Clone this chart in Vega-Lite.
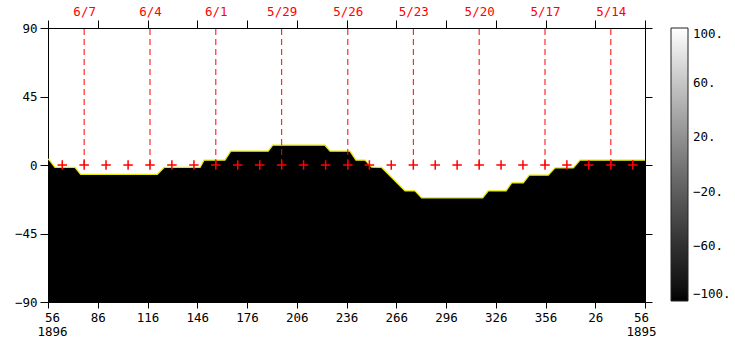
{
  "$schema": "https://vega.github.io/schema/vega-lite/v6.json",
  "autosize": {"type": "none"},
  "padding": {"left": 48, "top": 28, "right": 90, "bottom": 40},
  "width": 597,
  "height": 274,
  "background": "white",
  "datasets": {
    "boundary": [
      {"lon": 56, "lat": 4.0},
      {"lon": 56.8, "lat": 3.2},
      {"lon": 60.2, "lat": -1.6},
      {"lon": 72.3, "lat": -1.6},
      {"lon": 75.7, "lat": -6.2},
      {"lon": 121.9, "lat": -6.2},
      {"lon": 126.0, "lat": -1.6},
      {"lon": 147.7, "lat": -1.6},
      {"lon": 150.1, "lat": 3.2},
      {"lon": 162.7, "lat": 3.2},
      {"lon": 166.2, "lat": 9.1},
      {"lon": 188.8, "lat": 9.1},
      {"lon": 191.5, "lat": 13.0},
      {"lon": 223.0, "lat": 13.0},
      {"lon": 226.1, "lat": 9.1},
      {"lon": 238.1, "lat": 9.1},
      {"lon": 241.7, "lat": 3.2},
      {"lon": 247.2, "lat": 3.2},
      {"lon": 251.2, "lat": -1.4},
      {"lon": 257.2, "lat": -1.6},
      {"lon": 271.3, "lat": -17.0},
      {"lon": 277.3, "lat": -17.0},
      {"lon": 281.3, "lat": -21.6},
      {"lon": 318.1, "lat": -21.6},
      {"lon": 321.5, "lat": -17.0},
      {"lon": 332.2, "lat": -17.0},
      {"lon": 335.6, "lat": -11.8},
      {"lon": 342.6, "lat": -11.8},
      {"lon": 346.2, "lat": -6.7},
      {"lon": 357.7, "lat": -6.7},
      {"lon": 361.7, "lat": -1.9},
      {"lon": 372.8, "lat": -1.9},
      {"lon": 376.8, "lat": 3.2},
      {"lon": 416, "lat": 3.2}
    ],
    "days": [
      {"date": "6/8", "lon": 64.6, "line": false},
      {"date": "6/7", "lon": 77.8, "line": true},
      {"date": "6/6", "lon": 91.0, "line": false},
      {"date": "6/5", "lon": 104.3, "line": false},
      {"date": "6/4", "lon": 117.5, "line": true},
      {"date": "6/3", "lon": 130.7, "line": false},
      {"date": "6/2", "lon": 144.0, "line": false},
      {"date": "6/1", "lon": 157.2, "line": true},
      {"date": "5/31", "lon": 170.4, "line": false},
      {"date": "5/30", "lon": 183.7, "line": false},
      {"date": "5/29", "lon": 196.9, "line": true},
      {"date": "5/28", "lon": 210.1, "line": false},
      {"date": "5/27", "lon": 223.4, "line": false},
      {"date": "5/26", "lon": 236.8, "line": true},
      {"date": "5/25", "lon": 249.8, "line": false},
      {"date": "5/24", "lon": 263.0, "line": false},
      {"date": "5/23", "lon": 276.3, "line": true},
      {"date": "5/22", "lon": 289.5, "line": false},
      {"date": "5/21", "lon": 302.7, "line": false},
      {"date": "5/20", "lon": 316, "line": true},
      {"date": "5/19", "lon": 329.2, "line": false},
      {"date": "5/18", "lon": 342.4, "line": false},
      {"date": "5/17", "lon": 355.7, "line": true},
      {"date": "5/16", "lon": 368.9, "line": false},
      {"date": "5/15", "lon": 382.1, "line": false},
      {"date": "5/14", "lon": 395.4, "line": true},
      {"date": "5/13", "lon": 408.6, "line": false}
    ],
    "colorbar": [
      {"level": -100},
      {"level": 100}
    ]
  },
  "layer": [
    {
      "data": {"name": "boundary"},
      "mark": {"type": "area", "color": "black", "opacity": 1},
      "encoding": {
        "x": {
          "field": "lon", "type": "quantitative",
          "scale": {"domain": [56, 416], "nice": false, "zero": false},
          "axis": {
            "orient": "bottom", "title": null,
            "values": [56, 86, 116, 146, 176, 206, 236, 266, 296, 326, 356, 386, 416],
            "labelExpr": "datum.value == 56 ? ['56','1896'] : datum.value == 416 ? ['56','1895'] : format(datum.value % 360, 'd')",
            "tickSize": 6, "labelPadding": 3, "labelFlush": false,
            "labelLineHeight": 14, "labelBaseline": "top",
            "labelOffset": {"condition": [{"test": "datum.value == 56", "value": 4}, {"test": "datum.value == 416", "value": -4}], "value": 0}
          }
        },
        "y": {
          "field": "lat", "type": "quantitative",
          "scale": {"domain": [-90, 90], "nice": false, "zero": false},
          "axis": {
            "orient": "left", "title": null,
            "values": [-90, -45, 0, 45, 90],
            "tickSize": 8, "labelPadding": 3, "labelFlush": false
          }
        },
        "y2": {"datum": -90}
      }
    },
    {
      "data": {"name": "boundary"},
      "mark": {"type": "line", "color": "#e8e800", "strokeWidth": 1.3},
      "encoding": {
        "x": {
          "field": "lon", "type": "quantitative",
          "scale": {"domain": [56, 416], "nice": false, "zero": false},
          "axis": {
            "orient": "top", "title": null, "labels": false,
            "values": [56, 86, 116, 146, 176, 206, 236, 266, 296, 326, 356, 386, 416],
            "tickSize": 8
          }
        },
        "y": {
          "field": "lat", "type": "quantitative",
          "scale": {"domain": [-90, 90], "nice": false, "zero": false},
          "axis": {
            "orient": "right", "title": null, "labels": false,
            "values": [-90, -45, 0, 45, 90],
            "tickSize": 7
          }
        }
      }
    },
    {
      "data": {"name": "days"},
      "transform": [{"filter": "datum.line"}],
      "mark": {"type": "rule", "color": "#ff0000", "strokeWidth": 1, "strokeDash": [6, 4]},
      "encoding": {
        "x": {
          "field": "lon", "type": "quantitative",
          "scale": {"domain": [56, 416], "nice": false, "zero": false},
          "axis": {
            "orient": "top", "title": null,
            "values": [77.8, 117.5, 157.2, 196.9, 236.8, 276.3, 316, 355.7, 395.4],
            "labelExpr": "['6/7','6/4','6/1','5/29','5/26','5/23','5/20','5/17','5/14'][indexof([77.8,117.5,157.2,196.9,236.8,276.3,316,355.7,395.4], datum.value)]",
            "ticks": false, "tickSize": 0, "domain": false,
            "labelColor": "#ff0000", "labelPadding": 10, "labelFlush": false
          }
        },
        "y": {"datum": 0, "type": "quantitative", "axis": null},
        "y2": {"datum": 90}
      }
    },
    {
      "data": {"name": "days"},
      "mark": {"type": "point", "shape": "M-1,0H1M0,-1V1", "filled": false, "stroke": "#ff0000", "strokeWidth": 1.5, "size": 90, "opacity": 1},
      "encoding": {
        "x": {"field": "lon", "type": "quantitative", "axis": null},
        "y": {"datum": 0, "type": "quantitative", "axis": null}
      }
    },
    {
      "data": {"name": "colorbar"},
      "mark": {"type": "text", "text": ""},
      "encoding": {
        "color": {
          "field": "level", "type": "quantitative",
          "scale": {"domain": [-100, 100], "range": ["black", "white"]},
          "legend": {
            "type": "gradient", "orient": "none", "direction": "vertical",
            "legendX": 623, "legendY": 0,
            "gradientLength": 273, "gradientThickness": 17,
            "gradientStrokeColor": "#222", "gradientStrokeWidth": 1,
            "values": [-100, -60, -20, 20, 60, 100],
            "labelExpr": "format(datum.value, 'd') + '.'",
            "labelOffset": 5, "title": null, "padding": 0
          }
        }
      }
    }
  ],
  "resolve": {"axis": {"x": "independent", "y": "independent"}},
  "config": {
    "view": {"stroke": null},
    "axis": {
      "labelFont": "DejaVu Sans Mono", "labelFontSize": 12.5, "labelColor": "black",
      "domainColor": "black", "tickColor": "black", "grid": false
    },
    "legend": {"labelFont": "DejaVu Sans Mono", "labelFontSize": 12.5, "labelColor": "black"}
  }
}
